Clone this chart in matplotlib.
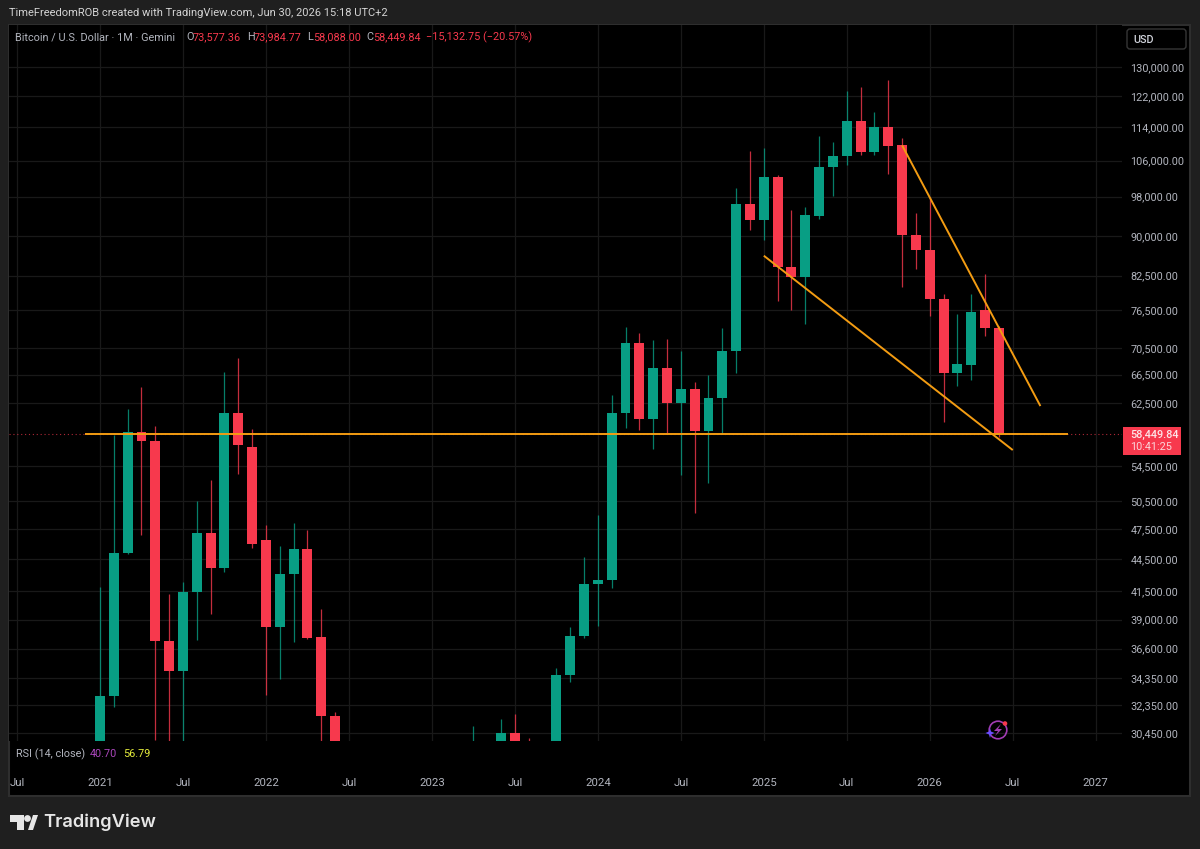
import matplotlib
matplotlib.use("Agg")
import matplotlib.pyplot as plt
from matplotlib.patches import Circle, FancyBboxPatch, Polygon, Rectangle
from matplotlib.ticker import NullLocator
import numpy as np

# monthly candles, Jan 2021 to Jun 2026
opens = [
    29000, 33035, 45110, 58680, 57580, 37220, 34880, 41400, 47060, 43650, 61200, 56760,
    46340, 38360, 43070, 45450, 37540, 31600, 19000, 23300, 20000, 19400, 20500, 17100,
    16500, 23100, 23100, 28500, 29200, 27200, 30450, 29200, 25900, 26900, 34550, 37620,
    42130, 42480, 61130, 71200, 60410, 67420, 62470, 64500, 58850, 63240, 70060, 96450,
    93150, 102360, 84130, 82320, 93900, 104540, 107080, 115650, 108080, 114070, 109600, 90140,
    87240, 78420, 66780, 67900, 76500, 73577.36,
]
highs = [
    41890, 58350, 61700, 64770, 59470, 41260, 42320, 50500, 52850, 66880, 68900, 59040,
    47890, 45810, 48100, 47370, 39920, 31860, 24000, 25200, 22800, 21000, 21400, 18400,
    23900, 25300, 29200, 30930, 29800, 31400, 31750, 30100, 27400, 35060, 38340, 44650,
    49010, 63610, 73720, 72760, 71710, 71860, 69970, 65480, 66400, 73570, 99870, 108250,
    108890, 102740, 95200, 95870, 111930, 110330, 123290, 124450, 117940, 126450, 111290, 94570,
    97860, 79220, 75890, 79330, 82800, 73984.77,
]
lows = [
    28130, 32200, 44950, 46880, 30000, 28800, 29300, 37270, 39500, 43250, 53500, 45580,
    33060, 34280, 37120, 37400, 26600, 17600, 18800, 19500, 18100, 18200, 15500, 16300,
    16500, 21400, 19500, 26900, 25800, 24800, 28900, 25400, 24900, 26600, 34030, 37500,
    38450, 41800, 59160, 58940, 56510, 58400, 53400, 49220, 52480, 58390, 66690, 91130,
    89170, 78120, 76560, 74260, 93410, 98130, 105000, 107310, 107300, 102960, 80430, 83710,
    75560, 59980, 64910, 65680, 72340, 58088.00,
]
closes = [
    33035, 45110, 58680, 57580, 37220, 34880, 41400, 47060, 43650, 61200, 57040, 46000,
    38360, 43070, 45450, 37490, 31600, 19000, 23300, 20000, 19400, 20500, 17100, 16500,
    23100, 23100, 28500, 29200, 27200, 30450, 29200, 25900, 26900, 34550, 37620, 42130,
    42480, 61130, 71200, 60410, 67420, 62470, 64500, 58850, 63240, 70060, 96450, 93150,
    102360, 84130, 82320, 94220, 104540, 107080, 115650, 108080, 114070, 109370, 90140, 87240,
    78420, 66780, 68090, 76180, 73577.36, 58449.84,
]

price_ticks = [130000, 122000, 114000, 106000, 98000, 90000, 82500, 76500, 70500, 66500,
               62500, 54500, 50500, 47500, 44500, 41500, 39000, 36600, 34350, 32350, 30450]
time_ticks = [-6, 0, 6, 12, 18, 24, 30, 36, 42, 48, 54, 60, 66, 72]
time_labels = ["Jul", "2021", "Jul", "2022", "Jul", "2023", "Jul", "2024", "Jul", "2025",
               "Jul", "2026", "Jul", "2027"]

# trend lines as (month, price) pairs
support_months = [-1.1, 70]
support_prices = [58400, 58400]
lower_months = [48, 66]
lower_prices = [86170, 56420]
upper_months = [58, 68]
upper_prices = [109600, 62100]

last_close = closes[-1]

BG = "#1f1f1f"
GREEN = "#089e84"
RED = "#f7394d"
ORANGE = "#f39c12"
TEXT = "#b2b5be"
FONT = ["Roboto", "DejaVu Sans"]
plt.rcParams["font.family"] = FONT

fig = plt.figure(figsize=(12, 8.49), dpi=100, facecolor=BG)
W, H = 1200, 849

# overlay in pixel units for the chart frame, legend and logo
ov = fig.add_axes([0, 0, 1, 1], zorder=0)
ov.set_xlim(0, W)
ov.set_ylim(H, 0)
ov.axis("off")
ov.add_patch(Rectangle((9, 25), 1181, 771, fc="black", ec="#2e2e2e", lw=1.5))

ax = fig.add_axes([9 / W, 1 - 741 / H, (1122 - 9) / W, (741 - 25) / H], zorder=1)
ax.set_facecolor("black")
for s in ax.spines.values():
    s.set_visible(False)

x = np.arange(len(opens))
o, h, l, c = map(np.array, (opens, highs, lows, closes))
colors = np.where(c >= o, GREEN, RED)

ax.vlines(x, l, h, colors=colors, lw=0.9, alpha=0.8, zorder=3)
ax.bar(x, np.abs(c - o), bottom=np.minimum(o, c), width=0.72, color=colors, zorder=4)

ax.axhline(last_close, color=RED, lw=0.8, ls=(0, (1, 2.5)), alpha=0.7, zorder=2)
for mx, my in [(support_months, support_prices), (lower_months, lower_prices), (upper_months, upper_prices)]:
    ax.plot(mx, my, color=ORANGE, lw=1.4, solid_capstyle="butt", zorder=5)

ax.set_yscale("log")
ax.set_ylim(29930, 142460)
ax.set_xlim(-6.58, 73.9)
ax.yaxis.tick_right()
ax.yaxis.set_minor_locator(NullLocator())
ax.set_yticks(price_ticks)
ax.set_yticklabels([f"{p:,.2f}" for p in price_ticks])
ax.set_xticks(time_ticks)
ax.set_xticklabels(time_labels)
ax.tick_params(axis="y", length=0, pad=6, labelsize=7.8, labelcolor=TEXT)
ax.tick_params(axis="x", length=0, pad=27, labelsize=8.2, labelcolor=TEXT)
ax.grid(True, color="#191919", lw=0.9, zorder=0)
ax.set_axisbelow(True)

# chrome drawn above the price pane
top = fig.add_axes([0, 0, 1, 1], zorder=2)
top.set_xlim(0, W)
top.set_ylim(H, 0)
top.axis("off")
top.patch.set_alpha(0)

top.text(9, 13, "TimeFreedomROB created with TradingView.com, Jun 30, 2026 15:18 UTC+2",
         color="#d4d4d4", fontsize=8, va="center")
top.text(15, 37, "Bitcoin / U.S. Dollar · 1M · Gemini", color=TEXT, fontsize=7.8, va="center")
legend_parts = [
    (186, "O", TEXT), (193, "73,577.36", RED), (247, "H", TEXT), (254, "73,984.77", RED),
    (307, "L", TEXT), (313, "58,088.00", RED), (366, "C", TEXT), (373, "58,449.84", RED),
    (426, "−15,132.75 (−20.57%)", RED),
]
for px, s, col in legend_parts:
    top.text(px, 37, s, color=col, fontsize=7.8, va="center")

top.text(16, 754, "RSI (14, close)", color=TEXT, fontsize=7.8, va="center")
top.text(90, 754, "40.70", color="#ab47bc", fontsize=7.8, va="center")
top.text(123, 754, "56.79", color="#e6ee3c", fontsize=7.8, va="center")

# currency button
top.add_patch(FancyBboxPatch((1127, 29), 59, 20, boxstyle="round,pad=0,rounding_size=3",
                             fc="black", ec="#363636", lw=1))
top.text(1133, 39.5, "USD", color="#d1d4dc", fontsize=7.8, va="center", fontweight="medium")

# last price tag
top.add_patch(Rectangle((1123, 427), 58, 28, fc=RED, ec="none"))
top.text(1130, 434.5, f"{last_close:,.2f}", color="#fde7e9", fontsize=7.8, va="center", fontweight="medium")
top.text(1130, 447, "10:41:25", color="#fbd5d9", fontsize=7.8, va="center")

# bolt badge near the bottom right
top.add_patch(Circle((998, 730), 8.8, fc="none", ec="#a23cb4", lw=1.2))
top.add_patch(Polygon([(1001, 724), (994, 731), (998, 731), (995, 736), (1002, 729), (998, 729)],
                      fc="#a23cb4", ec="none"))
top.add_patch(Polygon([(990, 728), (991, 731.5), (994.5, 733), (991, 734.5), (990, 738),
                       (989, 734.5), (985.5, 733), (989, 731.5)], fc="#6a4cff", ec="none"))
top.add_patch(Circle((1005, 723.5), 2.3, fc="#f7394d", ec="none"))

# TradingView logo
top.add_patch(Polygon([(10, 815), (24, 815), (24, 830), (17, 830), (17, 822), (10, 822)],
                      fc="#e6e6e6", ec="none"))
top.add_patch(Circle((27.5, 818.5), 3.4, fc="#e6e6e6", ec="none"))
top.add_patch(Polygon([(30, 830), (36, 815), (38, 815), (37.5, 815), (32, 830)], fc="#e6e6e6", ec="none"))
top.add_patch(Polygon([(28, 830), (33, 815), (38, 815), (33, 830)], fc="#e6e6e6", ec="none"))
top.text(43, 822.5, "TradingView", color="#e6e6e6", fontsize=13.2, va="center",
         family=["Inter", "DejaVu Sans"], fontweight="semibold")

fig.savefig("out.png", dpi=100, facecolor=BG)
